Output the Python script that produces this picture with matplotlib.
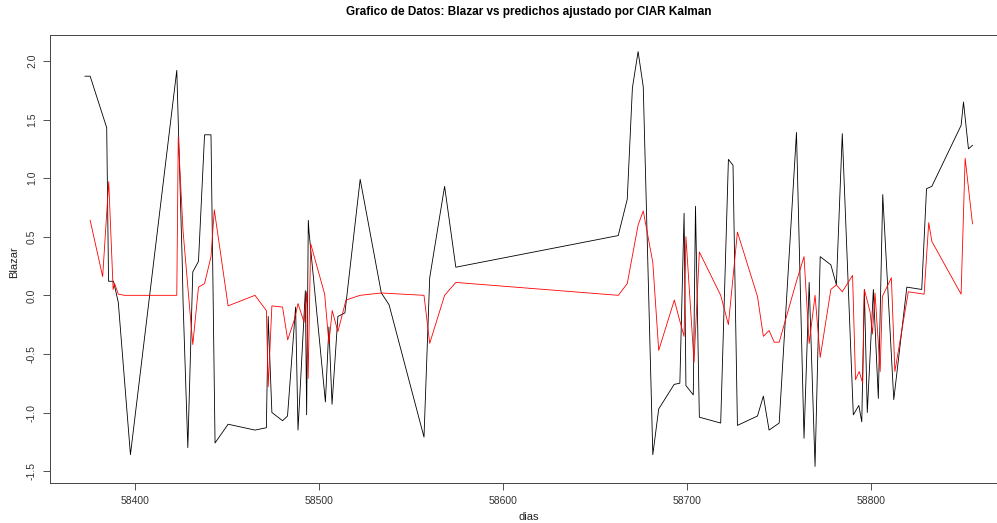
import matplotlib
matplotlib.use("Agg")
import matplotlib.pyplot as plt
import numpy as np

plt.rcParams["font.family"] = ["Liberation Sans", "DejaVu Sans"]

# observed light curve (black)
dias_obs = [58372.7, 58375.5, 58384.5, 58385.5, 58388.2, 58390.8, 58397.4, 58422.6,
            58425.6, 58426.0, 58428.6, 58431.3, 58434.4, 58437.7, 58441.2, 58443.4,
            58450.5, 58465.1, 58471.3, 58472.3, 58474.3, 58480.1, 58482.8, 58487.2,
            58488.5, 58492.5, 58493.2, 58494.1, 58494.5, 58503.4, 58505.3, 58507.0,
            58510.2, 58514.0, 58522.3, 58533.8, 58538.0, 58557.0, 58560.1, 58568.2,
            58574.3, 58662.6, 58667.5, 58670.3, 58673.4, 58676.2, 58681.4, 58684.6,
            58693.0, 58696.1, 58698.4, 58699.4, 58703.4, 58704.6, 58706.7, 58718.3,
            58722.5, 58725.0, 58727.4, 58738.3, 58741.5, 58744.6, 58750.1, 58759.5,
            58763.6, 58766.4, 58769.6, 58772.4, 58778.2, 58781.2, 58784.4, 58790.4,
            58793.4, 58795.0, 58796.4, 58798.0, 58801.3, 58804.0, 58806.4, 58812.4,
            58819.5, 58827.6, 58830.2, 58833.1, 58849.0, 58850.3, 58853.0, 58855.2]
blazar = [1.87, 1.87, 1.43, 0.12, 0.12, -0.06, -1.36, 1.92,
          0.26, -0.05, -1.30, 0.20, 0.29, 1.37, 1.37, -1.26,
          -1.10, -1.15, -1.13, -0.18, -1.00, -1.07, -1.03, -0.10,
          -1.15, 0.04, -1.02, 0.64, 0.54, -0.91, -0.27, -0.93,
          -0.18, -0.15, 0.99, 0.02, -0.08, -1.21, 0.15, 0.93,
          0.24, 0.51, 0.82, 1.77, 2.08, 1.78, -1.36, -0.97,
          -0.76, -0.75, 0.70, -0.77, -0.85, 0.76, -1.04, -1.09,
          1.16, 1.11, -1.11, -1.03, -0.86, -1.15, -1.09, 1.39,
          -1.22, 0.11, -1.46, 0.33, 0.26, 0.09, 1.38, -1.02,
          -0.94, -1.08, 0.05, -1.00, 0.05, -0.88, 0.86, -0.89,
          0.07, 0.05, 0.91, 0.93, 1.45, 1.65, 1.25, 1.28]

# CIAR Kalman predictions (red)
dias_pred = [58375.5, 58382.3, 58385.6, 58388.0, 58388.8, 58390.8, 58394.3, 58422.6,
             58423.4, 58426.0, 58431.3, 58434.4, 58437.7, 58441.2, 58443.0, 58450.5,
             58465.1, 58471.3, 58472.3, 58474.3, 58480.1, 58482.9, 58486.7, 58488.5,
             58491.8, 58493.2, 58494.0, 58495.4, 58503.0, 58505.3, 58507.1, 58510.2,
             58514.6, 58522.3, 58533.8, 58557.0, 58560.1, 58568.2, 58574.3, 58662.6,
             58667.5, 58673.4, 58676.2, 58681.4, 58684.6, 58693.1, 58696.1, 58698.4,
             58699.4, 58703.8, 58706.7, 58718.3, 58722.5, 58727.4, 58738.3, 58741.5,
             58744.6, 58747.4, 58750.1, 58759.5, 58763.6, 58766.4, 58769.6, 58772.4,
             58778.2, 58781.2, 58784.4, 58790.0, 58791.6, 58793.6, 58795.5, 58796.4,
             58799.5, 58800.8, 58802.2, 58805.0, 58806.2, 58811.1, 58813.0, 58820.3,
             58828.9, 58831.4, 58833.1, 58849.0, 58851.2, 58855.2]
predichos = [0.64, 0.16, 0.97, 0.05, 0.10, 0.01, 0.00, 0.00,
             1.35, 0.55, -0.42, 0.07, 0.10, 0.33, 0.73, -0.09,
             0.00, -0.13, -0.78, -0.09, -0.10, -0.38, -0.20, -0.07,
             -0.23, 0.03, -0.71, 0.44, 0.01, -0.41, -0.13, -0.31,
             -0.04, 0.00, 0.02, 0.00, -0.41, 0.00, 0.11, 0.00,
             0.10, 0.60, 0.72, 0.28, -0.47, -0.04, -0.22, -0.35,
             0.50, -0.57, 0.37, 0.00, -0.25, 0.54, -0.01, -0.35,
             -0.30, -0.40, -0.40, 0.12, 0.33, -0.41, 0.00, -0.53,
             0.05, 0.09, 0.03, 0.17, -0.72, -0.65, -0.75, 0.05,
             -0.14, -0.33, 0.02, -0.65, -0.01, 0.15, -0.65, 0.03,
             0.01, 0.62, 0.46, 0.01, 1.17, 0.61]

x_ticks = [58400, 58500, 58600, 58700, 58800]
y_ticks = [-1.5, -1.0, -0.5, 0.0, 0.5, 1.0, 1.5, 2.0]

W, H = 997, 523
fig = plt.figure(figsize=(W / 100, H / 100), dpi=100)
# R-style plot region; right edge falls just outside the picture
ax = fig.add_axes([49.5 / W, 40 / H, 958.5 / W, 448 / H])

ax.plot(dias_obs, blazar, color="black", lw=0.6)
ax.plot(dias_pred, predichos, color="red", lw=0.6)

# R pads the data range by 4% on each side
def r_lim(v):
    lo, hi = min(v), max(v)
    d = 0.04 * (hi - lo)
    return lo - d, hi + d

ax.set_xlim(*r_lim(dias_obs))
ax.set_ylim(*r_lim(blazar + predichos))

ax.set_xticks(x_ticks)
ax.set_xticklabels([str(t) for t in x_ticks])
ax.set_yticks(y_ticks)
ax.set_yticklabels([f"{t:.1f}" for t in y_ticks], rotation=90, va="center")
ax.tick_params(direction="out", length=5, width=0.6, labelsize=7.5, pad=4, colors="#333333")
for s in ax.spines.values():
    s.set_linewidth(0.7)
    s.set_color("#444444")

fig.text(528.75 / W, 1 - 12 / H, "Grafico de Datos: Blazar vs predichos ajustado por CIAR Kalman",
         ha="center", va="center", fontsize=8.5, fontweight="bold")
fig.text(528.75 / W, 1 - 517 / H, "dias", ha="center", va="center", fontsize=8, color="#222222")
fig.text(14 / W, 1 - 262 / H, "Blazar", ha="center", va="center", rotation=90, fontsize=8,
         color="#222222")

fig.savefig("out.png", dpi=100)
